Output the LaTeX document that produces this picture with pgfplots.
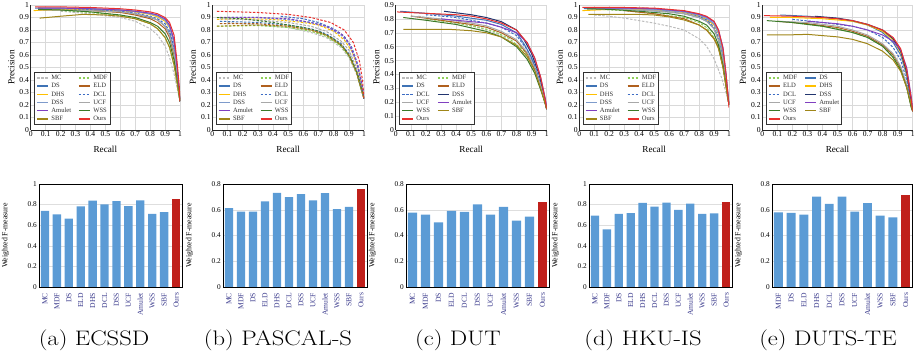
\documentclass[border=0pt]{standalone}
\usepackage{fontspec}
\usepackage{graphicx}
\usepackage{pgfplots}
\pgfplotsset{compat=1.18}
\newfontfamily\tnr{Liberation Serif}
\definecolor{cMC}{HTML}{BDBDBD}
\definecolor{cMDF}{HTML}{8FD05A}
\definecolor{cDS}{HTML}{3F73B5}
\definecolor{cELD}{HTML}{B0601E}
\definecolor{cDHS}{HTML}{FFC000}
\definecolor{cDCL}{HTML}{3D6CC4}
\definecolor{cDSSl}{HTML}{7E9BCB}
\definecolor{cDSSd}{HTML}{22356F}
\definecolor{cUCF}{HTML}{A8A8A8}
\definecolor{cAM}{HTML}{8040C0}
\definecolor{cWSS}{HTML}{3B7A28}
\definecolor{cSBF}{HTML}{A08619}
\definecolor{cOURS}{HTML}{E8312E}
\definecolor{cBar}{HTML}{5B9BD5}
\definecolor{cBarO}{HTML}{C0201B}
\definecolor{cTick}{HTML}{3A3A8C}
\newcommand\subcap[1]{\scalebox{1.17}[1]{\fontsize{21}{24}\selectfont #1}}
\pgfplotsset{
  prbase/.style={
    scale only axis, anchor=south west,
    xmin=0, xmax=1, ymin=0, ymax=1,
    axis lines*=left,
    axis line style={black!85, line width=0.6pt},
    xtick={0,0.1,0.2,0.3,0.4,0.5,0.6,0.7,0.8,0.9,1},
    xticklabels={0,0.1,0.2,0.3,0.4,0.5,0.6,0.7,0.8,0.9,1},
    grid=major, major grid style={black!15, line width=0.5pt},
    tick style={draw=none},
    tick label style={font=\tnr\fontsize{7.6}{8}\selectfont},
    xticklabel style={inner sep=1.5pt},
    yticklabel style={inner sep=1.5pt},
    /pgf/number format/assume math mode=true,
    xlabel={Recall}, ylabel={Precision},
    label style={font=\tnr\fontsize{9.2}{10}\selectfont},
    xlabel style={yshift=-4pt},
    ylabel style={yshift=0pt},
    legend columns=2,
    legend cell align=left,
    legend style={at={(0.025,0.04)}, anchor=south west, draw=black!80, line width=0.9pt,
      fill=white, text=black!80, font=\tnr\fontsize{6.6}{7}\selectfont, inner sep=1.5pt,
      nodes={text height=4.7pt, text depth=1.3pt, inner sep=1.1pt},
      row sep=0pt, column sep=1.5pt,
      /tikz/every even column/.append style={column sep=6pt}},
    legend image code/.code={\draw[#1, line width=1.4pt] (0pt,0pt) -- (11pt,0pt);},
    every axis plot/.append style={line width=1pt, mark=none},
  },
  pry1/.style={ytick={0,0.1,0.2,0.3,0.4,0.5,0.6,0.7,0.8,0.9,1},
    yticklabels={0,0.1,0.2,0.3,0.4,0.5,0.6,0.7,0.8,0.9,1}},
  dsh/.style={dash pattern=on 2.5pt off 1.5pt},
  barbase/.style={
    scale only axis, anchor=south west, ybar, bar width=0.7, bar shift=0pt,
    ymin=0, axis line style={black, line width=0.8pt},
    ymajorgrids, major grid style={black!13, line width=0.5pt},
    tick style={draw=none},
    x tick label style={rotate=90, anchor=east, font=\tnr\fontsize{7.6}{8}\selectfont, text=cTick, inner sep=1.5pt},
    y tick label style={font=\tnr\fontsize{7.3}{8}\selectfont, inner sep=2pt},
    /pgf/number format/assume math mode=true,
    ylabel={Weighted F-measure},
    ylabel style={font=\tnr\fontsize{7.8}{8}\selectfont, yshift=13pt},
  },
  by1/.style={ymax=1, ytick={0,0.2,0.4,0.6,0.8,1}, yticklabels={0,0.2,0.4,0.6,0.8,1}},
  by8/.style={ymax=0.8, ytick={0,0.2,0.4,0.6,0.8}, yticklabels={0,0.2,0.4,0.6,0.8}},
}
\begin{document}
\begin{tikzpicture}[x=1pt,y=1pt]
\useasboundingbox (0,0) rectangle (918,358);
% ================= (a) ECSSD PR =================
\begin{axis}[prbase, pry1, at={(30.7pt,228pt)}, width=149.3pt, height=125pt]
\addplot[cMC, dsh] coordinates {(0.2,0.95)(0.4,0.93)(0.6,0.9)(0.7,0.87)(0.8,0.81)(0.85,0.76)(0.9,0.67)(0.93,0.58)(0.96,0.45)(0.98,0.34)(1,0.23)};
\addplot[cMDF, dsh] coordinates {(0.2,0.955)(0.4,0.94)(0.6,0.915)(0.7,0.89)(0.8,0.85)(0.85,0.81)(0.9,0.74)(0.93,0.66)(0.96,0.52)(0.98,0.38)(1,0.23)};
\addplot[cDS] coordinates {(0.03,0.975)(0.2,0.97)(0.4,0.96)(0.6,0.945)(0.7,0.93)(0.8,0.9)(0.85,0.88)(0.9,0.83)(0.93,0.77)(0.96,0.63)(0.98,0.45)(1,0.23)};
\addplot[cELD] coordinates {(0.05,0.96)(0.2,0.96)(0.4,0.955)(0.6,0.94)(0.7,0.92)(0.8,0.89)(0.85,0.86)(0.9,0.81)(0.93,0.74)(0.96,0.6)(0.98,0.43)(1,0.23)};
\addplot[cDHS] coordinates {(0.02,0.955)(0.2,0.965)(0.4,0.965)(0.6,0.955)(0.7,0.945)(0.8,0.925)(0.85,0.905)(0.9,0.87)(0.93,0.82)(0.96,0.7)(0.98,0.5)(1,0.24)};
\addplot[cDCL, dsh] coordinates {(0.05,0.97)(0.2,0.97)(0.4,0.965)(0.6,0.95)(0.7,0.935)(0.8,0.91)(0.85,0.89)(0.9,0.85)(0.93,0.79)(0.96,0.66)(0.98,0.48)(1,0.23)};
\addplot[cDSSl, line width=1.4pt] coordinates {(0.05,0.975)(0.2,0.975)(0.4,0.97)(0.6,0.96)(0.7,0.95)(0.8,0.93)(0.85,0.915)(0.9,0.88)(0.93,0.83)(0.96,0.7)(0.98,0.5)(1,0.23)};
\addplot[cUCF] coordinates {(0.05,0.96)(0.2,0.96)(0.4,0.955)(0.6,0.945)(0.7,0.93)(0.8,0.905)(0.85,0.88)(0.9,0.83)(0.93,0.76)(0.96,0.62)(0.98,0.45)(1,0.23)};
\addplot[cAM] coordinates {(0.05,0.975)(0.2,0.975)(0.4,0.97)(0.6,0.96)(0.7,0.95)(0.8,0.935)(0.85,0.92)(0.9,0.89)(0.93,0.84)(0.96,0.72)(0.98,0.5)(1,0.23)};
\addplot[cWSS] coordinates {(0.05,0.965)(0.2,0.96)(0.4,0.945)(0.6,0.92)(0.7,0.9)(0.8,0.86)(0.85,0.83)(0.9,0.77)(0.93,0.7)(0.96,0.56)(0.98,0.4)(1,0.23)};
\addplot[cSBF] coordinates {(0.06,0.895)(0.2,0.91)(0.35,0.925)(0.5,0.92)(0.6,0.91)(0.7,0.89)(0.8,0.85)(0.85,0.81)(0.9,0.74)(0.93,0.66)(0.96,0.52)(0.98,0.38)(1,0.23)};
\addplot[cOURS] coordinates {(0.03,0.985)(0.2,0.985)(0.4,0.98)(0.6,0.97)(0.7,0.96)(0.8,0.945)(0.85,0.93)(0.9,0.9)(0.93,0.86)(0.96,0.76)(0.98,0.55)(0.995,0.35)(1,0.23)};
\legend{MC,MDF,DS,ELD,DHS,DCL,DSS,UCF,Amulet,WSS,SBF,Ours}
\end{axis}
% ================= (b) PASCAL-S PR =================
\begin{axis}[prbase, pry1, at={(212.3pt,228pt)}, width=151.7pt, height=125pt,
  every axis plot/.append style={dash pattern=on 2.5pt off 1.5pt}]
\addplot[cMC] coordinates {(0.1,0.86)(0.3,0.84)(0.5,0.82)(0.65,0.78)(0.75,0.74)(0.85,0.66)(0.9,0.58)(0.95,0.45)(0.98,0.33)(1,0.25)};
\addplot[cMDF] coordinates {(0.03,0.83)(0.3,0.835)(0.5,0.82)(0.65,0.79)(0.75,0.75)(0.85,0.67)(0.9,0.59)(0.95,0.46)(0.98,0.33)(1,0.25)};
\addplot[cDS, legend image post style={solid}] coordinates {(0.05,0.87)(0.3,0.86)(0.5,0.84)(0.65,0.81)(0.75,0.77)(0.85,0.69)(0.9,0.61)(0.95,0.47)(0.98,0.34)(1,0.25)};
\addplot[cELD, legend image post style={solid}] coordinates {(0.05,0.85)(0.3,0.85)(0.5,0.83)(0.65,0.8)(0.75,0.76)(0.85,0.68)(0.9,0.6)(0.95,0.47)(0.98,0.34)(1,0.25)};
\addplot[cDHS, legend image post style={solid}] coordinates {(0.03,0.885)(0.2,0.89)(0.4,0.885)(0.6,0.86)(0.7,0.84)(0.8,0.79)(0.87,0.72)(0.92,0.63)(0.96,0.5)(0.99,0.33)(1,0.25)};
\addplot[cDCL] coordinates {(0.45,0.91)(0.6,0.89)(0.7,0.86)(0.8,0.81)(0.87,0.75)(0.92,0.66)(0.96,0.52)(0.99,0.35)(1,0.25)};
\addplot[cDSSl, line width=1.4pt, legend image post style={solid}] coordinates {(0.1,0.9)(0.3,0.9)(0.5,0.885)(0.65,0.86)(0.75,0.83)(0.85,0.76)(0.9,0.69)(0.95,0.55)(0.98,0.38)(1,0.25)};
\addplot[cUCF, legend image post style={solid}] coordinates {(0.05,0.89)(0.3,0.88)(0.5,0.86)(0.65,0.83)(0.75,0.79)(0.85,0.71)(0.9,0.64)(0.95,0.5)(0.98,0.36)(1,0.25)};
\addplot[cAM, legend image post style={solid}] coordinates {(0.05,0.9)(0.3,0.9)(0.5,0.89)(0.65,0.86)(0.75,0.83)(0.85,0.77)(0.9,0.7)(0.95,0.55)(0.98,0.4)(1,0.25)};
\addplot[cWSS, legend image post style={solid}] coordinates {(0.03,0.9)(0.2,0.89)(0.4,0.86)(0.6,0.82)(0.7,0.79)(0.8,0.73)(0.87,0.65)(0.92,0.56)(0.96,0.44)(0.99,0.3)(1,0.25)};
\addplot[cSBF, legend image post style={solid}] coordinates {(0.03,0.83)(0.3,0.84)(0.5,0.83)(0.65,0.8)(0.75,0.76)(0.85,0.68)(0.9,0.6)(0.95,0.46)(0.98,0.33)(1,0.25)};
\addplot[cOURS, legend image post style={solid}] coordinates {(0.03,0.95)(0.3,0.94)(0.5,0.925)(0.65,0.9)(0.78,0.86)(0.87,0.8)(0.93,0.7)(0.97,0.55)(0.99,0.4)(1,0.25)};
\legend{MC,MDF,DS,ELD,DHS,DCL,DSS,UCF,Amulet,WSS,SBF,Ours}
\end{axis}
% ================= (c) DUT PR =================
\begin{axis}[prbase, at={(395.7pt,228pt)}, width=151pt, height=125pt, ymax=0.9,
  ytick={0,0.1,0.2,0.3,0.4,0.5,0.6,0.7,0.8,0.9}, yticklabels={0,0.1,0.2,0.3,0.4,0.5,0.6,0.7,0.8,0.9}]
\addplot[cMC, dsh] coordinates {(0.15,0.82)(0.3,0.79)(0.5,0.75)(0.6,0.72)(0.7,0.68)(0.8,0.61)(0.87,0.52)(0.92,0.42)(0.96,0.3)(0.99,0.19)(1,0.15)};
\addplot[cMDF, dsh] coordinates {(0.2,0.8)(0.4,0.77)(0.55,0.74)(0.65,0.71)(0.75,0.66)(0.85,0.57)(0.9,0.49)(0.95,0.35)(0.98,0.24)(1,0.15)};
\addplot[cDS] coordinates {(0.03,0.855)(0.2,0.84)(0.4,0.82)(0.6,0.79)(0.7,0.76)(0.8,0.7)(0.85,0.62)(0.9,0.52)(0.95,0.36)(0.98,0.24)(1,0.15)};
\addplot[cELD] coordinates {(0.1,0.82)(0.3,0.79)(0.5,0.76)(0.6,0.74)(0.7,0.7)(0.8,0.64)(0.87,0.55)(0.92,0.44)(0.96,0.31)(0.99,0.2)(1,0.15)};
\addplot[cDCL, dsh] coordinates {(0.2,0.83)(0.4,0.81)(0.6,0.77)(0.7,0.74)(0.8,0.68)(0.87,0.58)(0.92,0.47)(0.96,0.33)(0.99,0.2)(1,0.15)};
\addplot[cDSSd] coordinates {(0.32,0.855)(0.5,0.83)(0.6,0.81)(0.7,0.78)(0.8,0.72)(0.85,0.65)(0.9,0.55)(0.95,0.4)(0.98,0.26)(1,0.15)};
\addplot[cUCF] coordinates {(0.1,0.82)(0.3,0.8)(0.5,0.77)(0.6,0.75)(0.7,0.71)(0.8,0.65)(0.87,0.56)(0.92,0.45)(0.96,0.32)(0.99,0.2)(1,0.15)};
\addplot[cAM] coordinates {(0.3,0.8)(0.5,0.78)(0.6,0.77)(0.7,0.74)(0.8,0.7)(0.87,0.63)(0.92,0.52)(0.96,0.38)(0.99,0.23)(1,0.17)};
\addplot[cWSS] coordinates {(0.05,0.81)(0.2,0.79)(0.4,0.76)(0.6,0.71)(0.7,0.67)(0.8,0.6)(0.87,0.51)(0.92,0.41)(0.96,0.29)(0.99,0.19)(1,0.15)};
\addplot[cSBF] coordinates {(0.05,0.725)(0.2,0.725)(0.35,0.725)(0.5,0.715)(0.6,0.7)(0.7,0.67)(0.8,0.61)(0.87,0.53)(0.92,0.43)(0.96,0.3)(0.99,0.19)(1,0.15)};
\addplot[cOURS] coordinates {(0.01,0.85)(0.2,0.84)(0.4,0.83)(0.5,0.82)(0.6,0.8)(0.7,0.77)(0.8,0.72)(0.87,0.63)(0.92,0.52)(0.96,0.38)(0.99,0.22)(1,0.15)};
\legend{MC,MDF,DS,ELD,DCL,DSS,UCF,Amulet,WSS,SBF,Ours}
\end{axis}
% ================= (d) HKU-IS PR =================
\begin{axis}[prbase, pry1, at={(579.3pt,228pt)}, width=149.7pt, height=125pt]
\addplot[cMC, dsh] coordinates {(0.1,0.92)(0.2,0.91)(0.3,0.895)(0.4,0.875)(0.5,0.855)(0.6,0.83)(0.7,0.8)(0.8,0.73)(0.85,0.67)(0.9,0.57)(0.95,0.42)(0.98,0.3)(1,0.2)};
\addplot[cMDF, dsh] coordinates {(0.05,0.97)(0.3,0.955)(0.5,0.93)(0.7,0.9)(0.8,0.86)(0.85,0.82)(0.9,0.74)(0.93,0.66)(0.96,0.5)(0.98,0.35)(1,0.2)};
\addplot[cDS] coordinates {(0.03,0.97)(0.2,0.97)(0.4,0.96)(0.6,0.945)(0.7,0.93)(0.8,0.9)(0.85,0.87)(0.9,0.81)(0.93,0.72)(0.96,0.56)(0.98,0.38)(1,0.2)};
\addplot[cELD] coordinates {(0.3,0.955)(0.5,0.93)(0.6,0.91)(0.7,0.89)(0.8,0.84)(0.85,0.8)(0.9,0.73)(0.93,0.66)(0.96,0.5)(0.98,0.35)(1,0.2)};
\addplot[cDHS] coordinates {(0.02,0.955)(0.2,0.965)(0.4,0.965)(0.6,0.955)(0.7,0.94)(0.8,0.91)(0.85,0.885)(0.9,0.84)(0.93,0.77)(0.96,0.6)(0.98,0.42)(1,0.2)};
\addplot[cDCL, dsh] coordinates {(0.42,0.975)(0.6,0.96)(0.7,0.945)(0.8,0.91)(0.85,0.88)(0.9,0.82)(0.93,0.74)(0.96,0.58)(0.98,0.4)(1,0.2)};
\addplot[cDSSl, line width=1.4pt] coordinates {(0.1,0.975)(0.3,0.975)(0.5,0.965)(0.7,0.945)(0.8,0.92)(0.85,0.895)(0.9,0.85)(0.93,0.78)(0.96,0.62)(0.98,0.42)(1,0.2)};
\addplot[cUCF] coordinates {(0.05,0.97)(0.3,0.965)(0.5,0.955)(0.7,0.93)(0.8,0.9)(0.85,0.87)(0.9,0.81)(0.93,0.72)(0.96,0.56)(0.98,0.38)(1,0.2)};
\addplot[cAM] coordinates {(0.05,0.975)(0.3,0.975)(0.5,0.97)(0.7,0.95)(0.8,0.925)(0.85,0.905)(0.9,0.865)(0.93,0.8)(0.96,0.66)(0.98,0.45)(1,0.2)};
\addplot[cWSS] coordinates {(0.05,0.97)(0.2,0.965)(0.4,0.95)(0.6,0.93)(0.7,0.91)(0.8,0.87)(0.85,0.84)(0.9,0.77)(0.93,0.68)(0.96,0.52)(0.98,0.36)(1,0.2)};
\addplot[cSBF] coordinates {(0.06,0.925)(0.2,0.925)(0.4,0.925)(0.5,0.92)(0.6,0.905)(0.7,0.88)(0.8,0.84)(0.85,0.8)(0.9,0.73)(0.93,0.65)(0.96,0.5)(0.98,0.35)(1,0.2)};
\addplot[cOURS] coordinates {(0.02,0.98)(0.3,0.98)(0.5,0.975)(0.7,0.955)(0.8,0.93)(0.85,0.91)(0.9,0.87)(0.93,0.8)(0.96,0.65)(0.98,0.45)(1,0.18)};
\legend{MC,MDF,DS,ELD,DHS,DCL,DSS,UCF,Amulet,WSS,SBF,Ours}
\end{axis}
% ================= (e) DUTS-TE PR =================
\begin{axis}[prbase, pry1, at={(762.3pt,228pt)}, width=150.4pt, height=125pt]
\addplot[cMDF, dsh] coordinates {(0.2,0.86)(0.4,0.83)(0.5,0.81)(0.6,0.78)(0.7,0.74)(0.8,0.67)(0.87,0.59)(0.92,0.49)(0.96,0.35)(0.99,0.19)(1,0.15)};
\addplot[cDS] coordinates {(0.12,0.92)(0.3,0.91)(0.5,0.89)(0.6,0.87)(0.7,0.84)(0.8,0.78)(0.87,0.7)(0.92,0.6)(0.96,0.44)(0.99,0.22)(1,0.15)};
\addplot[cELD] coordinates {(0.1,0.87)(0.3,0.85)(0.5,0.82)(0.6,0.79)(0.7,0.75)(0.8,0.68)(0.87,0.6)(0.92,0.5)(0.96,0.35)(0.99,0.19)(1,0.15)};
\addplot[cDHS] coordinates {(0.05,0.9)(0.2,0.9)(0.4,0.89)(0.6,0.87)(0.7,0.84)(0.8,0.79)(0.87,0.72)(0.92,0.62)(0.96,0.45)(0.99,0.23)(1,0.15)};
\addplot[cDCL, dsh] coordinates {(0.2,0.885)(0.4,0.86)(0.6,0.83)(0.7,0.8)(0.8,0.74)(0.87,0.66)(0.92,0.56)(0.96,0.4)(0.99,0.2)(1,0.15)};
\addplot[cDSSd] coordinates {(0.35,0.91)(0.5,0.895)(0.6,0.875)(0.7,0.845)(0.8,0.8)(0.87,0.73)(0.92,0.63)(0.96,0.46)(0.99,0.23)(1,0.15)};
\addplot[cUCF] coordinates {(0.1,0.87)(0.3,0.86)(0.5,0.83)(0.6,0.8)(0.7,0.76)(0.8,0.69)(0.87,0.61)(0.92,0.51)(0.96,0.36)(0.99,0.19)(1,0.15)};
\addplot[cAM] coordinates {(0.3,0.87)(0.5,0.85)(0.6,0.83)(0.7,0.8)(0.8,0.76)(0.87,0.71)(0.92,0.64)(0.96,0.5)(0.99,0.27)(1,0.17)};
\addplot[cWSS] coordinates {(0.03,0.875)(0.2,0.86)(0.4,0.83)(0.6,0.78)(0.7,0.74)(0.8,0.67)(0.87,0.58)(0.92,0.48)(0.96,0.34)(0.99,0.18)(1,0.15)};
\addplot[cSBF] coordinates {(0.03,0.76)(0.15,0.76)(0.3,0.765)(0.5,0.745)(0.6,0.725)(0.7,0.69)(0.8,0.63)(0.87,0.56)(0.92,0.47)(0.96,0.34)(0.99,0.2)(1,0.15)};
\addplot[cOURS] coordinates {(0.01,0.915)(0.2,0.91)(0.4,0.9)(0.5,0.89)(0.6,0.875)(0.7,0.845)(0.8,0.8)(0.87,0.74)(0.92,0.65)(0.96,0.48)(0.99,0.25)(1,0.15)};
\legend{MDF,DS,ELD,DHS,DCL,DSS,UCF,Amulet,WSS,SBF,Ours}
\end{axis}
% ================= Bars =================
\begin{axis}[barbase, by1, at={(39pt,71pt)}, width=143pt, height=103pt, xmin=-0.5, xmax=11.5,
  xtick={0,1,2,3,4,5,6,7,8,9,10,11}, xticklabels={MC,MDF,DS,ELD,DHS,DCL,DSS,UCF,Amulet,WSS,SBF,Ours}]
\addplot[fill=cBar, draw=none] coordinates {(0,0.738)(1,0.705)(2,0.663)(3,0.783)(4,0.838)(5,0.803)(6,0.834)(7,0.786)(8,0.840)(9,0.709)(10,0.728)};
\addplot[fill=cBarO, draw=none, bar shift=0pt] coordinates {(11,0.851)};
\end{axis}
\begin{axis}[barbase, by8, at={(223pt,71pt)}, width=144pt, height=103pt, xmin=-0.5, xmax=11.5,
  xtick={0,1,2,3,4,5,6,7,8,9,10,11}, xticklabels={MC,MDF,DS,ELD,DHS,DCL,DSS,UCF,Amulet,WSS,SBF,Ours}]
\addplot[fill=cBar, draw=none] coordinates {(0,0.612)(1,0.586)(2,0.586)(3,0.666)(4,0.732)(5,0.698)(6,0.722)(7,0.672)(8,0.730)(9,0.604)(10,0.623)};
\addplot[fill=cBarO, draw=none, bar shift=0pt] coordinates {(11,0.764)};
\end{axis}
\begin{axis}[barbase, by8, at={(406pt,71pt)}, width=143pt, height=103pt, xmin=-0.5, xmax=10.5,
  xtick={0,1,2,3,4,5,6,7,8,9,10}, xticklabels={MC,MDF,DS,ELD,DCL,DSS,UCF,Amulet,WSS,SBF,Ours}]
\addplot[fill=cBar, draw=none] coordinates {(0,0.577)(1,0.562)(2,0.502)(3,0.592)(4,0.583)(5,0.642)(6,0.562)(7,0.623)(8,0.515)(9,0.546)};
\addplot[fill=cBarO, draw=none, bar shift=0pt] coordinates {(10,0.663)};
\end{axis}
\begin{axis}[barbase, by1, at={(589pt,71pt)}, width=143pt, height=103pt, xmin=-0.5, xmax=11.5,
  xtick={0,1,2,3,4,5,6,7,8,9,10,11}, xticklabels={MC,MDF,DS,ELD,DHS,DCL,DSS,UCF,Amulet,WSS,SBF,Ours}]
\addplot[fill=cBar, draw=none] coordinates {(0,0.693)(1,0.560)(2,0.709)(3,0.718)(4,0.816)(5,0.780)(6,0.819)(7,0.748)(8,0.809)(9,0.709)(10,0.715)};
\addplot[fill=cBarO, draw=none, bar shift=0pt] coordinates {(11,0.828)};
\end{axis}
\begin{axis}[barbase, by8, at={(772pt,71pt)}, width=140pt, height=103pt, xmin=-0.5, xmax=10.5,
  xtick={0,1,2,3,4,5,6,7,8,9,10}, xticklabels={MDF,DS,ELD,DHS,DCL,DSS,UCF,Amulet,WSS,SBF,Ours}]
\addplot[fill=cBar, draw=none] coordinates {(0,0.580)(1,0.575)(2,0.562)(3,0.702)(4,0.645)(5,0.702)(6,0.585)(7,0.652)(8,0.554)(9,0.541)};
\addplot[fill=cBarO, draw=none, bar shift=0pt] coordinates {(10,0.717)};
\end{axis}
% ================= Captions =================
\node at (94pt,18pt) {\subcap{(a) ECSSD}};
\node at (278pt,18pt) {\subcap{(b) PASCAL-S}};
\node at (458pt,18pt) {\subcap{(c) DUT}};
\node at (643pt,18pt) {\subcap{(d) HKU-IS}};
\node at (828pt,18pt) {\subcap{(e) DUTS-TE}};
\end{tikzpicture}
\end{document}
